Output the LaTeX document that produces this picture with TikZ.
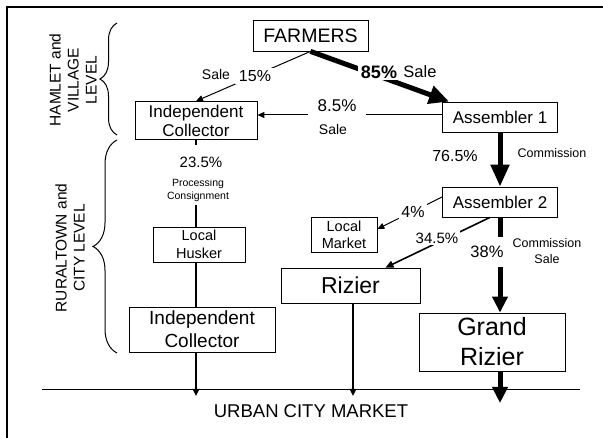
\documentclass[tikz,border=0pt]{standalone}
\usepackage{fontspec}
\setmainfont{Liberation Sans}
\usetikzlibrary{arrows.meta,decorations.pathreplacing}
\newcommand\fsz[2]{\fontsize{#1}{#2}\selectfont}
\begin{document}
\begin{tikzpicture}[x=1pt,y=-1pt,
  box/.style={draw,line width=0.8pt,inner sep=0pt,align=center},
  thinarrow/.style={line width=1pt,-{Triangle[length=7pt,width=6pt]}},
  midarrow/.style={line width=1.6pt,-{Triangle[length=8pt,width=7pt]}},
  colline/.style={line width=1.8pt},
  lbl/.style={inner sep=1pt},
  gap/.style={fill=white},
  bracestyle/.style={decorate,line width=1pt}]
\useasboundingbox (0,0) rectangle (603,438);
\draw[line width=2.5pt] (7,438) -- (7,7) -- (603,7);

% boxes
\node[box,minimum width=115pt,minimum height=31pt,font={\fsz{19.5}{22}}] (farmers) at (310.5,35.5) {FARMERS};
\node[box,minimum width=122pt,minimum height=38pt,font={\fsz{17}{19}}] (ic1) at (196,120.5) {Independent\\Collector};
\node[box,minimum width=115pt,minimum height=30pt,font={\fsz{17}{20}}] (a1) at (500,117) {Assembler 1};
\node[box,minimum width=115pt,minimum height=30pt,font={\fsz{17}{20}}] (a2) at (500,202) {Assembler 2};
\node[box,minimum width=66pt,minimum height=35pt,font={\fsz{14.5}{17}}] (lm) at (344,234.5) {Local\\Market};
\node[box,minimum width=139pt,minimum height=35pt,font={\fsz{23}{26}}] (rizier) at (350.5,285.5) {Rizier};
\node[box,minimum width=146pt,minimum height=58pt,font={\fsz{25}{30}}] (gr) at (492,342) {Grand\\Rizier};
\node[box,minimum width=92pt,minimum height=35pt,font={\fsz{14.5}{17.5}}] (lh) at (199,244.5) {Local\\Husker};
\node[box,minimum width=146pt,minimum height=45pt,font={\fsz{19}{23}}] (ic2) at (202,329.5) {Independent\\Collector};

% market line
\coordinate (mL) at (42,390);
\coordinate (mR) at (580,390);
\coordinate (base) at (0,396);
\coordinate (grend) at (0,403);
\draw[line width=1pt] (mL) -- (mR);

% connectors
\draw[thinarrow] (farmers.south) -- (ic1.north);
\draw[line width=5pt,-{Triangle[length=20pt,width=18pt]}] (farmers.south) -- ([xshift=7pt]a1.north west);
\draw[thinarrow] ([yshift=2pt]a1.west) -- ([yshift=2pt]a1.west -| ic1.east);
\draw[line width=5pt,-{Triangle[length=22pt,width=18pt]}] (a1.south) -- (a2.north);
\draw[thinarrow] ([yshift=5pt]a2.west) -- ([yshift=5.5pt]lm.east);
\draw[midarrow] ([xshift=-10pt]a2.south) -- ([xshift=35pt]rizier.north);
\draw[line width=5pt,-{Triangle[length=16pt,width=15pt]}] (a2.south) -- (a2.south |- gr.north);
\draw[line width=5pt,-{Triangle[length=16pt,width=15pt]}] (a2.south |- gr.south) -- (a2.south |- grend);
\draw[colline] (ic1.south) -- (ic1.south |- lh.north);
\draw[colline] (ic1.south |- lh.south) -- (ic1.south |- ic2.north);
\draw[colline,-{Triangle[length=7pt,width=6.5pt]}] (ic1.south |- ic2.south) -- (ic1.south |- base);
\draw[line width=1.5pt,-{Triangle[length=7pt,width=6.5pt]}] ([xshift=2.5pt]rizier.south) -- ([xshift=2.5pt]rizier.south |- base);

% braces
\draw[bracestyle,decoration={brace,amplitude=17pt}] (117,135) -- (117,23);
\draw[bracestyle,decoration={brace,amplitude=24pt}] (117,353) -- (117,140);

% labels
\node[lbl,font={\fsz{14}{16}}] (lsale1) at (216,74) {Sale};
\node[gap,inner xsep=4pt,inner ysep=2pt,font={\fsz{16}{18}}] (l15) at (255,76) {15\%};
\node[gap,inner xsep=3pt,inner ysep=2pt,font={\bfseries\fsz{18}{20}}] (l85) at (379,72) {85\%};
\node[lbl,font={\fsz{16.5}{18}}] (lsale85) at (420,72) {Sale};
\node[gap,inner xsep=10pt,inner ysep=4pt,anchor=base,font={\fsz{17}{19}}] (l85b) at (337,112) {8.5\%};
\node[lbl,font={\fsz{14}{16}}] (lsale2) at (333,129) {Sale};
\node[lbl,font={\fsz{16}{18}}] (l765) at (455,156) {76.5\%};
\node[lbl,font={\fsz{12.5}{14}}] (lcomm1) at (552,153) {Commission};
\node[gap,inner sep=2pt,font={\fsz{16}{18}}] (l4) at (413,212) {4\%};
\node[gap,inner sep=2pt,font={\fsz{15}{17}}] (l345) at (437,238) {34.5\%};
\node[gap,inner xsep=2pt,inner ysep=9pt,font={\fsz{16.5}{18}}] (l38) at (487,252) {38\%};
\node[lbl,align=center,font={\fsz{12.5}{16}}] (lcomm2) at (547,251) {Commission\\Sale};
\node[gap,inner sep=3pt,align=center,font={\fsz{10.5}{13}}] (lproc) at (198,190.5) {Processing\\Consignment};
\node[gap,inner xsep=2pt,inner ysep=12pt,font={\fsz{15}{17}}] (l235) at (201,162) {23.5\%};
\node[lbl,font={\fsz{18.5}{21}}] (lurban) at (311,411) {URBAN CITY MARKET};
\node[lbl,rotate=90,align=center,font={\fsz{15.5}{18}}] (lhamlet) at (73,80) {HAMLET and\\VILLAGE\\LEVEL};
\node[lbl,rotate=90,align=center,font={\fsz{15.5}{18}}] (lrural) at (70,248) {RURALTOWN and\\CITY LEVEL};
\end{tikzpicture}
\end{document}
